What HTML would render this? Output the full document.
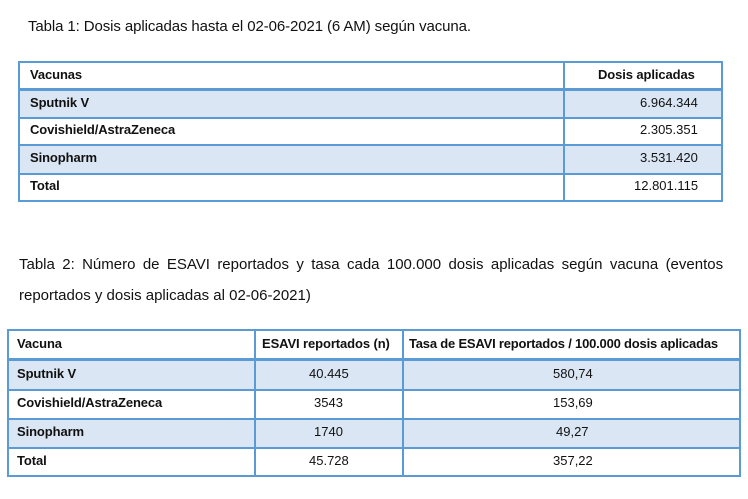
<!DOCTYPE html>
<html><head><meta charset="utf-8"><style>
body{margin:0;width:748px;height:499px;background:#fff;font-family:"Liberation Sans",sans-serif;color:#111;position:relative;overflow:hidden}
.t{position:absolute;font-size:15px;white-space:nowrap}
.box{position:absolute;border:2px solid #5b9bd5;box-sizing:border-box}
.row{position:absolute;left:0;right:0;border-top:2px solid #5b9bd5;box-sizing:border-box}
.fill{background:#dae6f3}
.c{position:absolute;font-size:13px;white-space:nowrap}
.b{font-weight:bold;letter-spacing:-0.1px}
.vl{position:absolute;top:0;bottom:0;width:2px;background:#5b9bd5}
</style></head><body>
<div class="t" style="left:28px;top:18px;letter-spacing:-0.1px">Tabla 1: Dosis aplicadas hasta el 02-06-2021 (6 AM) según vacuna.</div>

<div class="box" style="left:18px;top:61px;width:705px;height:141px">
  <div class="row" style="top:0;height:26px;border-top:none"></div>
  <div class="row fill" style="top:25px;height:29px;border-top-width:3px"></div>
  <div class="row" style="top:54px;height:27px"></div>
  <div class="row fill" style="top:81px;height:29px"></div>
  <div class="row" style="top:110px;height:29px"></div>
  <div class="vl" style="left:543px"></div>
  <div class="c b" style="left:10px;top:4px">Vacunas</div>
  <div class="c b" style="left:578px;top:4px">Dosis aplicadas</div>
  <div class="c b" style="left:10px;top:32px">Sputnik V</div>
  <div class="c" style="left:620px;top:32px">6.964.344</div>
  <div class="c b" style="left:10px;top:59px">Covishield/AstraZeneca</div>
  <div class="c" style="left:620px;top:59px">2.305.351</div>
  <div class="c b" style="left:10px;top:87px">Sinopharm</div>
  <div class="c" style="left:620px;top:87px">3.531.420</div>
  <div class="c b" style="left:10px;top:115px">Total</div>
  <div class="c" style="left:614px;top:115px">12.801.115</div>
</div>

<div class="t" style="left:19px;top:256px;word-spacing:3.2px;letter-spacing:0px">Tabla 2: Número de ESAVI reportados y tasa cada 100.000 dosis aplicadas según vacuna (eventos</div>
<div class="t" style="left:19px;top:287px;letter-spacing:0px">reportados y dosis aplicadas al 02-06-2021)</div>

<div class="box" style="left:7px;top:329px;width:734px;height:148px">
  <div class="row" style="top:0;height:27px;border-top:none"></div>
  <div class="row fill" style="top:27px;height:31px;border-top-width:3px"></div>
  <div class="row" style="top:58px;height:29px"></div>
  <div class="row fill" style="top:87px;height:29px"></div>
  <div class="row" style="top:116px;height:30px"></div>
  <div class="vl" style="left:245px"></div>
  <div class="vl" style="left:393px"></div>
  <div class="c b" style="left:8px;top:5px">Vacuna</div>
  <div class="c b" style="left:253px;top:5px">ESAVI reportados (n)</div>
  <div class="c b" style="left:400px;top:5px;font-size:13px;letter-spacing:-0.2px">Tasa de ESAVI reportados / 100.000 dosis aplicadas</div>
  <div class="c b" style="left:8px;top:35px">Sputnik V</div>
  <div class="c" style="left:300px;top:35px">40.445</div>
  <div class="c" style="left:544px;top:35px">580,74</div>
  <div class="c b" style="left:8px;top:64px">Covishield/AstraZeneca</div>
  <div class="c" style="left:305px;top:64px">3543</div>
  <div class="c" style="left:544px;top:64px">153,69</div>
  <div class="c b" style="left:8px;top:93px">Sinopharm</div>
  <div class="c" style="left:305px;top:93px">1740</div>
  <div class="c" style="left:547px;top:93px">49,27</div>
  <div class="c b" style="left:8px;top:122px">Total</div>
  <div class="c" style="left:300px;top:122px">45.728</div>
  <div class="c" style="left:544px;top:122px">357,22</div>
</div>
</body></html>
